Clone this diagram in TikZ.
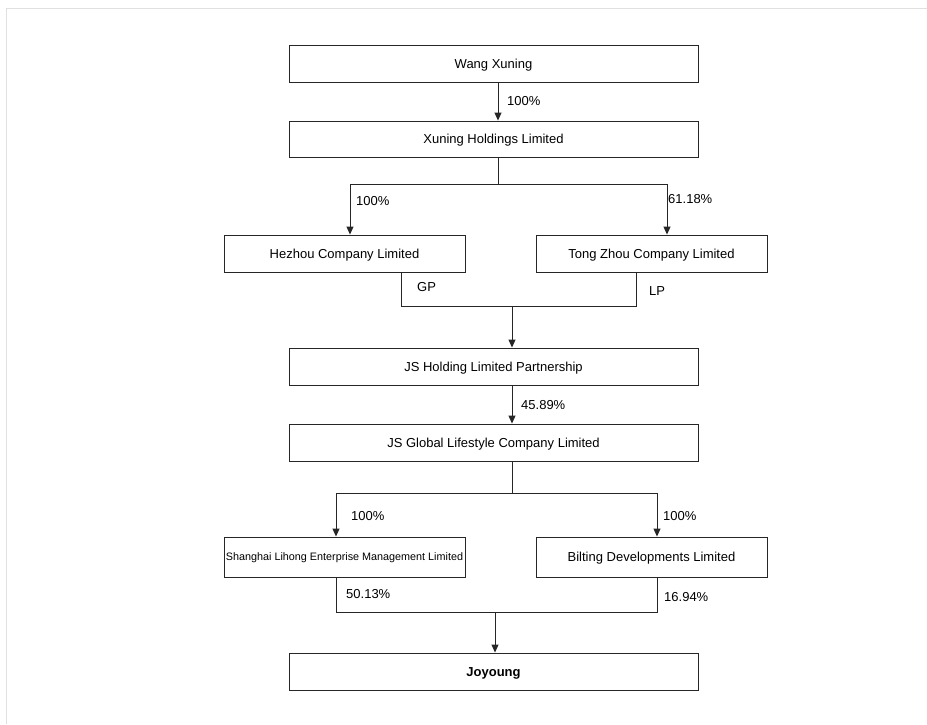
\documentclass[tikz,border=0pt]{standalone}
\usepackage{fontspec}
\setmainfont{Liberation Sans}
\usetikzlibrary{arrows.meta,calc}
\begin{document}
\begin{tikzpicture}[x=1pt,y=-1pt,
  box/.style={draw=black!85,line width=0.9pt,inner sep=0pt,text height=9.4pt,text depth=0pt,font=\fontsize{13}{15}\selectfont},
  conn/.style={draw=black!85,line width=0.9pt},
  arr/.style={conn,-{Triangle[length=8pt,width=7pt]}},
  lbl/.style={inner sep=0pt,anchor=west,font=\fontsize{13}{15}\selectfont}]
\useasboundingbox (0,0) rectangle (927,724);
\draw[black!12,line width=0.8pt] (6,724) -- (6,8) -- (927,8);
% boxes
\node[box,minimum width=409pt,minimum height=37pt] (wang) at (493.5,63.5) {Wang Xuning};
\node[box,minimum width=409pt,minimum height=36pt] (xun) at (493.5,139) {Xuning Holdings Limited};
\node[box,minimum width=241pt,minimum height=37pt] (hez) at (344.5,253.5) {Hezhou Company Limited};
\node[box,minimum width=231pt,minimum height=37pt] (tong) at (651.5,253.5) {Tong Zhou Company Limited};
\node[box,minimum width=409pt,minimum height=37pt] (jsh) at (493.5,366.5) {JS Holding Limited Partnership};
\node[box,minimum width=409pt,minimum height=37pt] (jsg) at (493.5,442.5) {JS Global Lifestyle Company Limited};
\node[box,minimum width=241pt,minimum height=40pt,text height=7.8pt,font=\fontsize{10.8}{13}\selectfont] (sh) at (344.5,557) {Shanghai Lihong Enterprise Management Limited};
\node[box,minimum width=231pt,minimum height=40pt] (bil) at (651.5,557) {Bilting Developments Limited};
\node[box,minimum width=409pt,minimum height=37pt,font=\fontsize{13}{15}\selectfont\bfseries] (joy) at (493.5,671.5) {Joyoung};
% coordinates
\coordinate (a1) at (498,0);
\coordinate (b1) at (498,184);
\coordinate (hl) at (350,184);
\coordinate (hr) at (667,184);
\coordinate (gl) at (401,306);
\coordinate (gr) at (636,306);
\coordinate (gm) at (512,306);
\coordinate (c1) at (512,493);
\coordinate (cl) at (336,493);
\coordinate (cr) at (657,493);
\coordinate (dl) at (336,612);
\coordinate (dr) at (657,612);
\coordinate (dm) at (495,612);
% connectors
\draw[arr] (wang.south -| a1) -- (xun.north -| a1);
\draw[conn] (xun.south -| b1) -- (b1);
\draw[conn] (hl) -- (hr);
\draw[arr] (hl) -- (hl |- hez.north);
\draw[arr] (hr) -- (hr |- tong.north);
\draw[conn] (gl |- hez.south) -- (gl) -- (gr) -- (gr |- tong.south);
\draw[arr] (gm) -- (gm |- jsh.north);
\draw[arr] (jsh.south -| gm) -- (jsg.north -| gm);
\draw[conn] (jsg.south -| c1) -- (c1);
\draw[conn] (cl) -- (cr);
\draw[arr] (cl) -- (cl |- sh.north);
\draw[arr] (cr) -- (cr |- bil.north);
\draw[conn] (dl |- sh.south) -- (dl) -- (dr) -- (dr |- bil.south);
\draw[arr] (dm) -- (dm |- joy.north);
% labels
\node[lbl] (l1) at (507,101) {100\%};
\node[lbl] (l2) at (356,201) {100\%};
\node[lbl] (l3) at (668,199) {61.18\%};
\node[lbl] (l4) at (417,287) {GP};
\node[lbl] (l5) at (649,291) {LP};
\node[lbl] (l6) at (521,405) {45.89\%};
\node[lbl] (l7) at (351,516) {100\%};
\node[lbl] (l8) at (663,516) {100\%};
\node[lbl] (l9) at (346,594) {50.13\%};
\node[lbl] (l10) at (664,597) {16.94\%};
\end{tikzpicture}
\end{document}
